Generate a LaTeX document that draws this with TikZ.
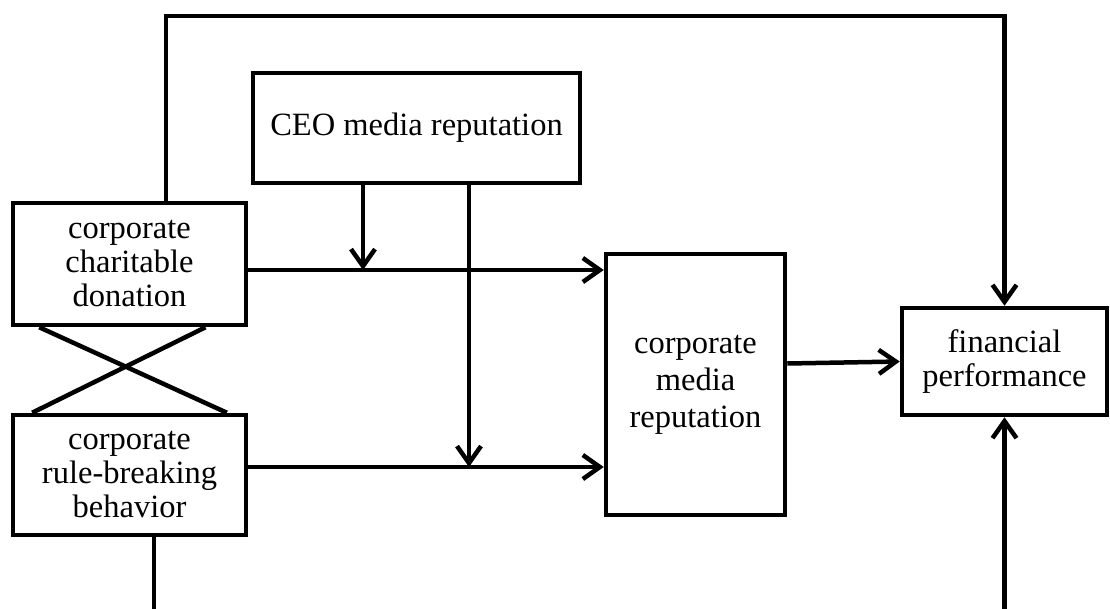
\documentclass[tikz,border=0pt]{standalone}
\usepackage{fontspec}
\setmainfont{Liberation Serif}
\usetikzlibrary{arrows.meta,calc}

\tikzset{
	box/.style={draw, line width=4.5pt, align=center, inner sep=0pt,
		font=\fontsize{32.5}{34}\selectfont},
	arr/.style={line width=4.5pt, -{Straight Barb[length=17pt,width=24pt,line width=4.5pt]}},
	link/.style={line width=4.5pt}
}

\begin{document}
\begin{tikzpicture}[x=1pt,y=-1pt]
			\useasboundingbox (0,0) rectangle (1110,608);
			% boxes
			\node[box, minimum width=327pt, minimum height=110pt] (ceo) at (416.5,128) {CEO media reputation};
			\node[box, minimum width=233pt, minimum height=122pt] (don) at (129.5,264) {corporate\\charitable\\donation};
			\node[box, minimum width=233pt, minimum height=120pt] (rule) at (129.5,475) {corporate\\rule-breaking\\behavior};
			\node[box, minimum width=179pt, minimum height=261pt, font=\fontsize{32.5}{37}\selectfont] (cmr) at (695.5,384.5) {corporate\\media\\reputation};
			\node[box, minimum width=205pt, minimum height=107pt] (fin) at (1004.5,361.5) {financial\\performance};
			% free ends
			\coordinate (topL) at (166,16);
			\coordinate (botL) at (154,612);
			\coordinate (botR) at (1004.5,612);
			% main paths
			\draw[arr] ($(don.east)+(0,6)$) -- (cmr.west |- 0,270);
			\draw[arr] ($(rule.east)+(0,-8)$) -- (cmr.west |- 0,467);
			\draw[arr] ($(cmr.east)+(0,-21)$) -- (fin.west);
			% moderation
			\draw[arr] (ceo.south -| 363,0) -- (363,270);
			\draw[arr] (ceo.south -| 469,0) -- (469,467);
			% direct paths
			\draw[arr] (don.north -| topL) -- (topL) -| (fin.north);
			\draw[link] (rule.south -| botL) -- (botL);
			\draw[arr] (botR) -- (fin.south);
			% cross
			\draw[link] ($(don.south west)!0.12!(don.south east)$) -- ($(rule.north west)!0.91!(rule.north east)$);
			\draw[link] ($(don.south west)!0.82!(don.south east)$) -- ($(rule.north west)!0.09!(rule.north east)$);
\end{tikzpicture}
\end{document}
